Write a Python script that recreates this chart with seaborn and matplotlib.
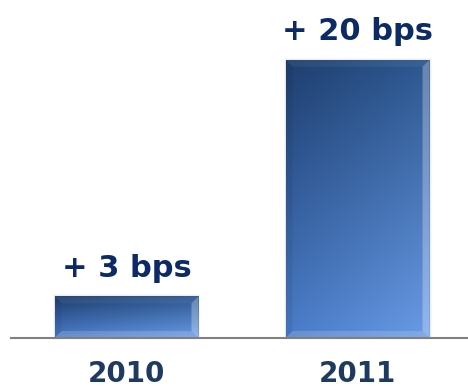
import numpy as np
import matplotlib
matplotlib.use("Agg")
import matplotlib.pyplot as plt
import seaborn as sns
import pandas as pd
from matplotlib.colors import to_rgb
from matplotlib.patches import Polygon, Rectangle

# Year-over-year change, in basis points
years = ["2010", "2011"]
change_bps = [3, 20]
value_labels = ["+ 3 bps", "+ 20 bps"]

sns.set_theme(style="white")
plt.rcParams["font.family"] = ["DejaVu Sans"]

LABEL_COLOR = "#0B2A66"
YEAR_COLOR = "#1F3A60"

fig = plt.figure(figsize=(4.68, 3.9), dpi=100)
ax = fig.add_axes([11 / 468, 52 / 390, 457 / 468, 338 / 390])

df = pd.DataFrame({"year": years, "bps": change_bps})
sns.barplot(data=df, x="year", y="bps", ax=ax, width=0.623,
            color="#3d6bb0", saturation=1, zorder=2)

XLIM = (-0.5, 1.478)
YLIM = (0, 24.3)


def corner_gradient(n=96):
    tl, tr, bl, br = [np.array(to_rgb(c)) for c in
                      ("#1E3E6E", "#2D5890", "#4A7CC8", "#6A9BE6")]
    u = np.linspace(0, 1, n)[None, :, None]
    v = np.linspace(0, 1, n)[:, None, None]
    top = tl * (1 - u) + tr * u
    bot = bl * (1 - u) + br * u
    return top * (1 - v) + bot * v


grad = corner_gradient()
ax_w_px = 457
ax_h_px = 338
bevel_px = 7
dx = bevel_px * (XLIM[1] - XLIM[0]) / ax_w_px
dy = bevel_px * (YLIM[1] - YLIM[0]) / ax_h_px
px_x = (XLIM[1] - XLIM[0]) / ax_w_px
px_y = (YLIM[1] - YLIM[0]) / ax_h_px

for patch in ax.patches:
    x0, y0 = patch.get_x(), patch.get_y()
    w, h = patch.get_width(), patch.get_height()
    x1, y1 = x0 + w, y0 + h

    # soft halo behind the bar
    for k, a in ((2, 0.04), (1, 0.07)):
        ax.add_patch(Rectangle((x0 - k * px_x, y0), w + 2 * k * px_x,
                               h + k * px_y, facecolor="#606060",
                               edgecolor="none", alpha=a, zorder=1))

    im = ax.imshow(grad, extent=(x0, x1, y0, y1), origin="upper",
                   aspect="auto", interpolation="bilinear", zorder=2)
    im.set_clip_path(patch)
    patch.set_facecolor("none")
    patch.set_edgecolor("none")

    bevels = [
        ([(x0, y1), (x1, y1), (x1 - dx, y1 - dy), (x0 + dx, y1 - dy)], "white", 0.06),
        ([(x1, y1), (x1, y0), (x1 - dx, y0 + dy), (x1 - dx, y1 - dy)], "white", 0.28),
        ([(x0, y0), (x1, y0), (x1 - dx, y0 + dy), (x0 + dx, y0 + dy)], "white", 0.16),
        ([(x0, y1), (x0, y0), (x0 + dx, y0 + dy), (x0 + dx, y1 - dy)], "#0A1A35", 0.08),
    ]
    for pts, col, a in bevels:
        ax.add_patch(Polygon(pts, closed=True, facecolor=col,
                             edgecolor="none", alpha=a, zorder=3))

for i, (value, label) in enumerate(zip(change_bps, value_labels)):
    ax.annotate(label, xy=(i, value), xytext=(0, 14),
                textcoords="offset points", ha="center", va="baseline",
                fontsize=22, fontweight="bold", color=LABEL_COLOR)

ax.set_xlim(*XLIM)
ax.set_ylim(*YLIM)
ax.set_xlabel("")
ax.set_ylabel("")
ax.set_yticks([])
ax.tick_params(axis="x", length=0, pad=16, labelsize=20, labelcolor=YEAR_COLOR)
for lbl in ax.get_xticklabels():
    lbl.set_fontweight("bold")

for side in ("left", "top", "right"):
    ax.spines[side].set_visible(False)
ax.spines["bottom"].set_color("#808080")
ax.spines["bottom"].set_linewidth(1.5)
ax.spines["bottom"].set_zorder(5)

fig.savefig("out.png", dpi=100)
